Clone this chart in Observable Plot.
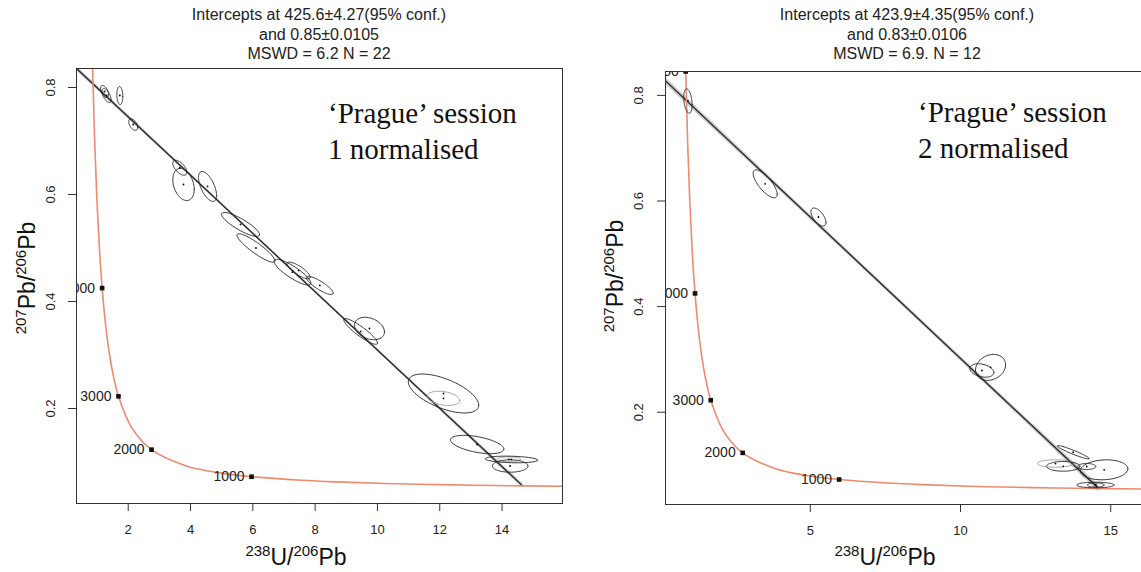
<!DOCTYPE html>
<html><head><meta charset="utf-8">
<script src="https://cdn.jsdelivr.net/npm/d3@7"></script>
<script src="https://cdn.jsdelivr.net/npm/@observablehq/plot@0.6"></script>
<style>
body{margin:0;background:#fff;}
#wrap{position:relative;width:1141px;height:572px;overflow:hidden;font-family:"Liberation Sans",Arial,sans-serif;}
.panel{position:absolute;top:0;height:572px;}
.panel svg{max-width:none !important;display:block;}
.title{position:absolute;text-align:center;font-size:16px;line-height:19.5px;color:#222;white-space:nowrap;transform:translateX(-50%);}
.note{position:absolute;font-family:"Liberation Serif","Times New Roman",serif;font-size:29px;line-height:36px;color:#111;white-space:nowrap;}
</style></head><body><div id="wrap"></div><script>
// ---------- data ----------
const concordiaX = [16.469, 16.034, 13.831, 12.399, 10.252, 8.7183, 7.5684, 5.9593, 4.8875, 3.8170, 2.7490, 2.1108, 1.6874, 1.5254, 1.3869, 1.2673, 1.1630, 1.0714, 0.9902, 0.9180, 0.8533, 0.7950, 0.7423];
const concordiaY = [0.05422, 0.05446, 0.05594, 0.05722, 0.05990, 0.06276, 0.06580, 0.07250, 0.08012, 0.09360, 0.12299, 0.16426, 0.22266, 0.26054, 0.30583, 0.36004, 0.42501, 0.50299, 0.59671, 0.70946, 0.84527, 1.00903, 1.2067];
const markerAge = ["1000", "2000", "3000", "4000", "5000"];
const markerX = [5.959, 2.749, 1.687, 1.163, 0.853];
const markerY = [0.0725, 0.1230, 0.2227, 0.4250, 0.8453];

// left panel (session 1)
const leftTitle = ["Intercepts at 425.6\u00b14.27(95% conf.)", "and 0.85\u00b10.0105", "MSWD = 6.2 N = 22"];
const leftNote = ["\u2018Prague\u2019 session", "1 normalised"];
const leftXTicks = [2, 4, 6, 8, 10, 12, 14];
const leftYTicks = [0.2, 0.4, 0.6, 0.8];
const leftRegX = [0.34, 14.66];
const leftRegY = [0.8355, 0.0553];
const leftBandX = [0.34, 4, 7.5, 11, 14.66];
const leftBandLo = [0.8310, 0.6331, 0.4429, 0.2517, 0.0508];
const leftBandHi = [0.8400, 0.6391, 0.4479, 0.2577, 0.0598];
const leftEX   = [1.239, 1.303, 1.731, 2.160, 3.656, 3.775, 4.546, 5.605, 6.100, 7.270, 7.470, 8.150, 9.460, 9.745, 12.12, 12.12, 13.20, 14.30, 14.26, 14.22];
const leftEY   = [0.7925, 0.7850, 0.7850, 0.7308, 0.6500, 0.6187, 0.6150, 0.5440, 0.5000, 0.4548, 0.4580, 0.4300, 0.3440, 0.3495, 0.2280, 0.2190, 0.1327, 0.1047, 0.0925, 0.1050];
const leftESx  = [0.128, 0.145, 0.096, 0.144, 0.225, 0.343, 0.289, 0.610, 0.610, 0.590, 0.370, 0.430, 0.540, 0.480, 1.130, 0.520, 0.857, 0.840, 0.570, 0.370];
const leftESy  = [0.0112, 0.0130, 0.0168, 0.0109, 0.0140, 0.0300, 0.0280, 0.0224, 0.0267, 0.0240, 0.0155, 0.0170, 0.0240, 0.0210, 0.0364, 0.0133, 0.0171, 0.0062, 0.0116, 0.0045];
const leftERho = [-0.5, -0.6, -0.1, -0.5, -0.6, -0.3, -0.6, -0.85, -0.9, -0.85, -0.8, -0.85, -0.9, -0.3, -0.6, -0.3, -0.5, -0.2, 0, 0];
const leftEGray = [0, 0, 0, 0, 0, 0, 0, 0, 0, 0, 0, 0, 0, 0, 0, 1, 0, 0, 0, 1];

// right panel (session 2)
const rightTitle = ["Intercepts at 423.9\u00b14.35(95% conf.)", "and 0.83\u00b10.0106", "MSWD = 6.9. N = 12"];
const rightNote = ["\u2018Prague\u2019 session", "2 normalised"];
const rightXTicks = [5, 10, 15];
const rightYTicks = [0.2, 0.4, 0.6, 0.8];
const rightRegX = [0.18, 14.6];
const rightRegY = [0.8275, 0.0555];
const rightBandX = [0.18, 4, 8, 12, 14.6];
const rightBandLo = [0.8210, 0.6185, 0.4048, 0.1902, 0.0490];
const rightBandHi = [0.8340, 0.6275, 0.4128, 0.1992, 0.0620];
const rightEX   = [0.926, 3.497, 5.270, 11.00, 10.71, 13.75, 13.42, 13.16, 14.20, 14.78, 14.49, 14.50];
const rightEY   = [0.7894, 0.6326, 0.5697, 0.2849, 0.2790, 0.1242, 0.0975, 0.1028, 0.0972, 0.0909, 0.0621, 0.0621];
const rightESx  = [0.140, 0.400, 0.250, 0.500, 0.400, 0.530, 0.555, 0.600, 0.300, 0.790, 0.620, 0.280];
const rightESy  = [0.0231, 0.0265, 0.0170, 0.0246, 0.0127, 0.0126, 0.0092, 0.0070, 0.0057, 0.0189, 0.0053, 0.0040];
const rightERho = [-0.3, -0.75, -0.6, 0.2, -0.3, -0.95, 0, 0, 0, 0.1, 0, 0];
const rightEGray = [0, 0, 0, 0, 0, 0, 0, 1, 0, 0, 0, 0];

// ---------- helpers ----------
function ellipseOutline(cx, cy, sx, sy, rho, id) {
  const n = 72, s = Math.sqrt(1 - rho * rho);
  return d3.range(n + 1).map(i => {
    const t = 2 * Math.PI * i / n;
    return {id, x: cx + sx * Math.cos(t), y: cy + sy * (rho * Math.cos(t) + s * Math.sin(t))};
  });
}

function makePanel(cfg) {
  const conc = concordiaX.map((x, i) => ({x, y: concordiaY[i]}));
  const markers = markerX.map((x, i) => ({x, y: markerY[i], t: markerAge[i]}));
  const reg = cfg.regX.map((x, i) => ({x, y: cfg.regY[i]}));
  const band = cfg.bandX.map((x, i) => ({x, lo: cfg.bandLo[i], hi: cfg.bandHi[i]}));
  const blackE = [], grayE = [], centers = [];
  cfg.ex.forEach((cx, i) => {
    const pts = ellipseOutline(cx, cfg.ey[i], cfg.esx[i], cfg.esy[i], cfg.erho[i], i);
    (cfg.egray[i] ? grayE : blackE).push(...pts);
    centers.push({x: cx, y: cfg.ey[i]});
  });
  const svg = Plot.plot({
    width: cfg.width, height: 572,
    marginLeft: cfg.ml, marginRight: cfg.mr, marginTop: cfg.mt, marginBottom: cfg.mb,
    x: {domain: cfg.xdom, axis: null},
    y: {domain: cfg.ydom, axis: null},
    style: {fontFamily: "Liberation Sans, Arial, sans-serif", background: "transparent", color: "#222", maxWidth: "none"},
    marks: [
      Plot.areaY(band, {x: "x", y1: "lo", y2: "hi", fill: "#b8b8b8", fillOpacity: 0.75, clip: true}),
      Plot.line(reg, {x: "x", y: "y", stroke: "#222", strokeWidth: 1.3, clip: true}),
      Plot.line(conc, {x: "x", y: "y", stroke: "#ee8a6e", strokeWidth: 1.6, curve: "catmull-rom", clip: true}),
      Plot.line(grayE, {x: "x", y: "y", z: "id", stroke: "#9a9a9a", strokeWidth: 0.9, clip: true}),
      Plot.line(blackE, {x: "x", y: "y", z: "id", stroke: "#222", strokeWidth: 0.9, clip: true}),
      Plot.dot(centers, {x: "x", y: "y", r: 0.9, fill: "#000", clip: true}),
      Plot.dot(markers, {x: "x", y: "y", symbol: "square", r: 2.6, fill: "#111", clip: true}),
      Plot.text(markers, {x: "x", y: "y", text: "t", textAnchor: "end", dx: -7, fontSize: 14, fill: "#222", clip: true}),
      Plot.frame({stroke: "#333", strokeWidth: 1}),
      Plot.axisX({ticks: cfg.xticks, tickSize: 8, tickPadding: 13, fontSize: 13, label: null, stroke: "#333"}),
      Plot.axisY({ticks: cfg.yticks, tickSize: 8, tickFormat: () => "", label: null, stroke: "#333"}),
      Plot.text(cfg.yticks, {y: d => d, text: d => String(d), frameAnchor: "left", dx: cfg.ylabDx, rotate: -90, textAnchor: "middle", lineAnchor: "middle", fontSize: 13, fill: "#222"})
    ]
  });
  const s = d3.select(svg);
  // x axis title with superscripts
  const xt = s.append("text").attr("x", cfg.xlabX).attr("y", 565).attr("text-anchor", "middle")
    .attr("fill", "#111").style("font-family", "Liberation Sans, Arial, sans-serif");
  xt.append("tspan").attr("font-size", 15).attr("dy", -9).text("238");
  xt.append("tspan").attr("font-size", 23).attr("dy", 9).text("U/");
  xt.append("tspan").attr("font-size", 15).attr("dy", -9).text("206");
  xt.append("tspan").attr("font-size", 23).attr("dy", 9).text("Pb");
  // y axis title
  const yt = s.append("text").attr("transform", `translate(${cfg.ylabX},${cfg.ylabY}) rotate(-90)`)
    .attr("text-anchor", "middle").attr("fill", "#111").style("font-family", "Liberation Sans, Arial, sans-serif");
  yt.append("tspan").attr("font-size", 15).attr("dy", -9).text("207");
  yt.append("tspan").attr("font-size", 23).attr("dy", 9).text("Pb/");
  yt.append("tspan").attr("font-size", 15).attr("dy", -9).text("206");
  yt.append("tspan").attr("font-size", 23).attr("dy", 9).text("Pb");
  return svg;
}

const wrap = document.getElementById("wrap");
function addPanel(left, cfg, title, titleX, note, noteX, noteY) {
  const div = document.createElement("div");
  div.className = "panel"; div.style.left = left + "px"; div.style.width = cfg.width + "px";
  const svg = makePanel(cfg);
  svg.style.maxWidth = "none";
  div.appendChild(svg);
  wrap.appendChild(div);
  const t = document.createElement("div");
  t.className = "title"; t.style.left = titleX + "px"; t.style.top = "5px";
  t.innerHTML = title.join("<br>");
  wrap.appendChild(t);
  const n = document.createElement("div");
  n.className = "note"; n.style.left = noteX + "px"; n.style.top = noteY + "px";
  n.innerHTML = note.join("<br>");
  wrap.appendChild(n);
}

addPanel(0, {
  width: 570, ml: 76, mr: 8, mt: 68, mb: 69,
  xdom: [0.34, 15.94], ydom: [0.0224, 0.8355],
  xticks: leftXTicks, yticks: leftYTicks, ylabDx: -26,
  regX: leftRegX, regY: leftRegY, bandX: leftBandX, bandLo: leftBandLo, bandHi: leftBandHi,
  ex: leftEX, ey: leftEY, esx: leftESx, esy: leftESy, erho: leftERho, egray: leftEGray,
  xlabX: 296, ylabX: 35, ylabY: 278
}, leftTitle, 319, leftNote, 328, 95);

addPanel(570, {
  width: 600, ml: 95, mr: 21, mt: 71, mb: 68,
  xdom: [0.18, 16.29], ydom: [0.0252, 0.8453],
  xticks: rightXTicks, yticks: rightYTicks, ylabDx: -27,
  regX: rightRegX, regY: rightRegY, bandX: rightBandX, bandLo: rightBandLo, bandHi: rightBandHi,
  ex: rightEX, ey: rightEY, esx: rightESx, esy: rightESy, erho: rightERho, egray: rightEGray,
  xlabX: 315, ylabX: 53, ylabY: 276
}, rightTitle, 907, rightNote, 918, 94);
</script></body></html>
